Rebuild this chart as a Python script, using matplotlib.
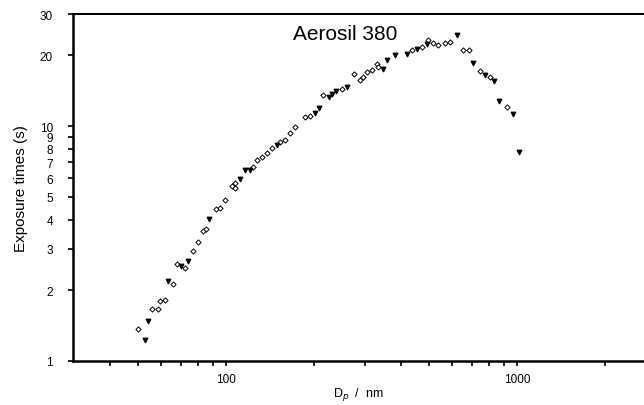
import matplotlib
matplotlib.use("Agg")
import matplotlib.pyplot as plt
from matplotlib.ticker import FixedLocator, NullFormatter, FixedFormatter

plt.rcParams['font.family'] = ['Liberation Sans', 'DejaVu Sans']

# Open diamonds
dia_x = [50, 55.8, 58.2, 59.3, 61.7, 65.6, 67.7, 72.3, 77.2, 80.3, 83.2, 85.4,
         92.4, 95.4, 99.2, 104.6, 107.4, 107.4, 124.1, 127.5, 132.7, 138.0, 143.6,
         153.3, 159.5, 166.0, 172.6, 186.9, 194.4, 214.9, 249.8, 275.4, 288.8,
         296.4, 305.9, 316.7, 329.5, 333.7, 434.6, 470.4, 495.6, 515.6, 536.5,
         565.6, 588.5, 654, 685.7, 746.3, 807.6, 921.8]
dia_y = [1.37, 1.66, 1.66, 1.80, 1.81, 2.12, 2.60, 2.50, 2.93, 3.20, 3.57, 3.63,
         4.45, 4.49, 4.83, 5.57, 5.72, 5.46, 6.72, 7.18, 7.41, 7.66, 8.05,
         8.58, 8.73, 9.31, 9.93, 10.95, 11.03, 13.53, 14.44, 16.73, 15.66,
         16.18, 16.99, 17.28, 18.44, 17.84, 20.99, 21.68, 23.14, 22.54, 22.04,
         22.54, 22.76, 21.13, 21.13, 17.16, 16.18, 12.00]

# Filled triangles
tri_x = [52.7, 53.8, 63.0, 70.0, 74.2, 87.6, 111.7, 116.2, 120.9, 149.4,
         202.2, 209.2, 226.5, 230.8, 238.8, 259.9, 347.1, 356.6, 380.9,
         417.8, 452.2, 489.4, 620.5, 707.7, 776.2, 833.6, 869.3, 971.2, 1018]
tri_y = [1.23, 1.48, 2.19, 2.53, 2.66, 4.02, 5.96, 6.51, 6.51, 8.31,
         11.39, 11.89, 13.31, 13.66, 14.11, 14.67, 17.56, 19.04, 19.99,
         20.33, 21.34, 22.26, 24.30, 18.54, 16.45, 15.51, 12.76, 11.24, 7.78]

y_ticks = [1, 2, 3, 4, 5, 6, 7, 8, 9, 10, 20, 30]
y_labels = ['1', '2', '3', '4', '5', '6', '7', '8', '9', '10', '20', '30']
x_major = [100, 1000]
x_minor = [40, 50, 60, 70, 80, 90, 200, 300, 400, 500, 600, 700, 800, 900, 2000]

fig = plt.figure(figsize=(6.44, 4.06), dpi=100)
ax = fig.add_axes([73/644, 44/406, 1 - 73/644, (362 - 15)/406])

ax.scatter(dia_x, dia_y, marker='D', s=7, facecolors='white', edgecolors='black',
           linewidths=0.7, zorder=3)
ax.scatter(tri_x, tri_y, marker='v', s=10, color='black', zorder=3)

ax.set_xscale('log')
ax.set_yscale('log')
ax.set_xlim(29.8, 2732)
ax.set_ylim(1, 30)

ax.yaxis.set_major_locator(FixedLocator(y_ticks))
ax.yaxis.set_major_formatter(FixedFormatter(y_labels))
ax.yaxis.set_minor_locator(FixedLocator([]))
ax.xaxis.set_major_locator(FixedLocator(x_major))
ax.xaxis.set_major_formatter(FixedFormatter(['100', '1000']))
ax.xaxis.set_minor_locator(FixedLocator(x_minor))
ax.xaxis.set_minor_formatter(NullFormatter())

ax.tick_params(axis='both', which='both', direction='out', length=3.5, width=1.2,
               labelsize=8.5, pad=5)
ax.tick_params(axis='y', pad=11)

ax.spines['right'].set_visible(False)
ax.spines['left'].set_linewidth(1.8)
ax.spines['bottom'].set_linewidth(1.8)
ax.spines['top'].set_linewidth(1.4)

ax.set_ylabel('Exposure times (s)', fontsize=11, labelpad=8)
ax.set_xlabel('D$_p$  /  nm', fontsize=9, labelpad=0)
ax.text(256, 24.7, 'Aerosil 380', fontsize=15, ha='center', va='center')

fig.savefig('out.png', dpi=100)
